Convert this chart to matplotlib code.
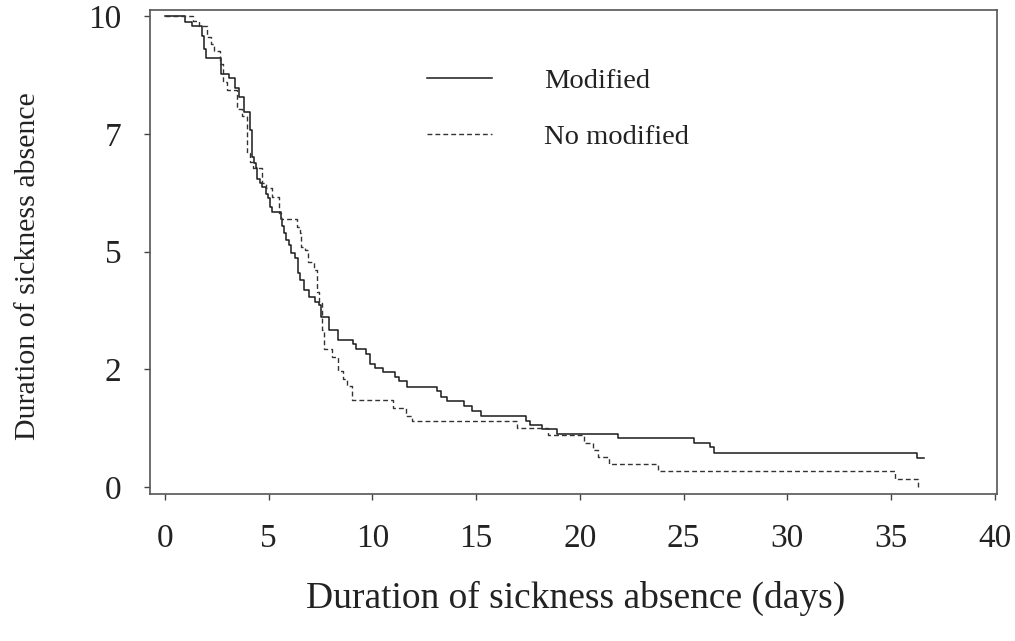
import numpy as np
import matplotlib
matplotlib.use('Agg')
import matplotlib.pyplot as plt

plt.rcParams['font.family'] = ['Liberation Serif', 'DejaVu Serif']

# Kaplan-Meier style step curves (time in days, survival scaled 0-10)
mod_days = [0, 0.95, 1.3, 1.78, 1.88, 2.0, 2.7, 3.1, 3.4, 3.55, 3.8, 4.1, 4.19,
            4.27, 4.38, 4.43, 4.59, 4.67, 4.88, 4.99, 5.07, 5.15, 5.59, 5.62,
            5.72, 5.85, 5.96, 6.09, 6.28, 6.39, 6.52, 6.68, 6.92, 7.21, 7.41,
            7.52, 7.9, 8.33, 9.07, 9.2, 9.7, 9.9, 10.1, 10.5, 11.08, 11.27,
            11.67, 13.12, 13.32, 13.6, 14.39, 14.81, 15.23, 17.39, 17.6, 18.18,
            18.9, 21.82, 25.52, 26.25, 26.46, 36.23, 36.6]
mod_surv = [10.0, 9.87, 9.8, 9.58, 9.3, 9.1, 8.78, 8.68, 8.48, 8.28, 7.97, 7.59,
            7.0, 6.87, 6.77, 6.55, 6.46, 6.38, 6.22, 6.13, 5.95, 5.85, 5.7,
            5.55, 5.39, 5.25, 5.14, 4.96, 4.86, 4.54, 4.39, 4.18, 4.04, 3.93,
            3.86, 3.62, 3.33, 3.13, 3.03, 2.93, 2.83, 2.62, 2.53, 2.44, 2.33,
            2.25, 2.12, 2.03, 1.92, 1.82, 1.72, 1.62, 1.5, 1.4, 1.32, 1.22, 1.13,
            1.03, 0.93, 0.84, 0.72, 0.62, 0.62]

nomod_days = [0, 1.35, 1.64, 2.03, 2.22, 2.37, 2.66, 2.8, 3.0, 3.48, 3.72, 3.96,
              4.1, 4.25, 4.67, 4.88, 5.15, 5.48, 5.59, 6.36, 6.52, 6.57, 6.76,
              6.88, 7.2, 7.33, 7.41, 7.57, 7.68, 8.05, 8.34, 8.58, 8.78, 9.02,
              11.0, 11.63, 11.92, 16.97, 18.48, 20.18, 20.61, 20.86, 21.42,
              23.75, 35.18, 36.28]
nomod_surv = [10.0, 9.89, 9.79, 9.55, 9.4, 9.25, 8.98, 8.61, 8.44, 8.02, 7.87,
              7.1, 6.9, 6.77, 6.45, 6.35, 6.15, 5.81, 5.69, 5.53, 5.39, 5.1,
              5.03, 4.78, 4.6, 4.14, 3.9, 3.33, 2.94, 2.76, 2.47, 2.3, 2.15,
              1.85, 1.68, 1.51, 1.39, 1.25, 1.1, 0.93, 0.79, 0.64, 0.48, 0.33,
              0.16, 0.0]

xticks = [0, 5, 10, 15, 20, 25, 30, 35, 40]
yticks = [0, 2.5, 5, 7.5, 10]
ytick_labels = ['0', '2', '5', '7', '10']

fig = plt.figure(figsize=(10.15, 6.41), dpi=100)
ax = fig.add_axes([150 / 1015, 1 - 494 / 641, 847 / 1015, 484 / 641])

ax.step(mod_days, mod_surv, where='post', color='#1a1a1a', lw=1.1,
        label='Modified')
ax.step(nomod_days, nomod_surv, where='post', color='#333333', lw=1.0,
        linestyle=(0, (3.5, 2.2)), label='No modified')

ax.set_xlim(-0.72, 40.1)
ax.set_ylim(-0.15, 10.13)
ax.set_xticks(xticks)
ax.set_xticklabels([str(t) for t in xticks])
ax.set_yticks(yticks)
ax.set_yticklabels(ytick_labels)
ax.tick_params(axis='x', length=4, width=1, color='#444444', pad=17,
               labelsize=24, labelcolor='#222222')
ax.tick_params(axis='y', length=4.5, width=1, color='#444444', pad=16,
               labelsize=24, labelcolor='#222222')
for s in ax.spines.values():
    s.set_color('#555555')
    s.set_linewidth(1.2)

ax.legend(loc='center left', bbox_to_anchor=(0.327, 0.796), frameon=False,
          fontsize=20.5, handlelength=2.3, handletextpad=1.8,
          labelspacing=1.05, borderpad=0, borderaxespad=0,
          labelcolor='#222222')

fig.text(576 / 1015, 1 - 598 / 641, 'Duration of sickness absence (days)',
         ha='center', va='center', fontsize=27, color='#222222')
fig.text(28 / 1015, 1 - 266 / 641, 'Duration of sickness absence',
         ha='center', va='center', rotation=90, fontsize=21.5, color='#222222')

fig.savefig('out.png', dpi=100)
